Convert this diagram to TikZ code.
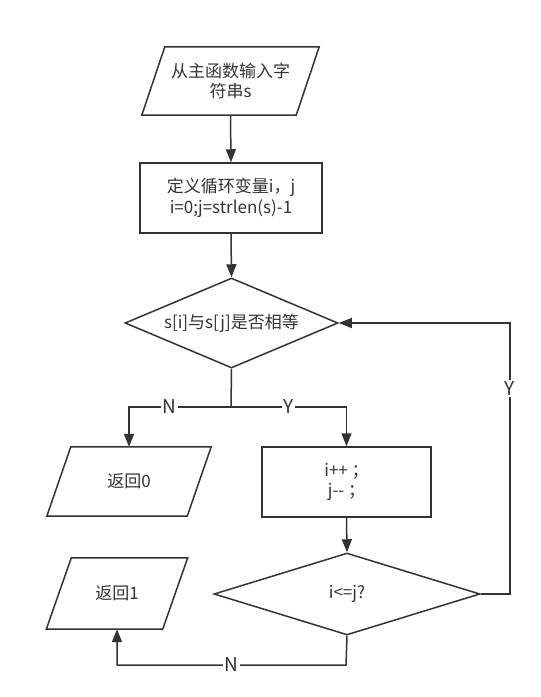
\documentclass[tikz,border=0pt]{standalone}
\usepackage{fontspec}
\setmainfont{Noto Sans CJK SC}
\usetikzlibrary{shapes.geometric,arrows.meta}
\definecolor{ink}{HTML}{333333}
\tikzset{
  every node/.style={text=ink,font=\fontsize{17}{20.5}\selectfont,align=center,inner sep=0pt},
  line/.style={draw=ink,line width=1.5pt},
  arr/.style={line,-{Triangle[length=13pt,width=10pt]}},
  box/.style={line,rectangle,minimum width=#1,minimum height=70pt},
  slot/.style={rectangle,minimum width=#1,minimum height=69pt},
  dia/.style={line,diamond},
  lab/.style={fill=white,inner sep=1.5pt,font=\fontsize{19}{20}\selectfont}
}
\begin{document}
\begin{tikzpicture}[x=1pt,y=-1pt]
\useasboundingbox (0,0) rectangle (541,697);
% nodes
\node[slot=154pt,minimum height=68pt] (in) at (230.5,81) {从主函数输入字\\符串s};
\draw[line] ([xshift=11.5pt]in.north west) -- ([xshift=11.5pt]in.north east)
  -- ([xshift=-11.5pt]in.south east) -- ([xshift=-11.5pt]in.south west) -- cycle;
\node[box=182pt] (init) at (231,198) {定义循环变量i，j\\i=0;j=strlen(s)-1};
\node[dia,shape aspect=2.37,minimum width=213pt,minimum height=90pt] (cmp) at (231.5,323) {s[i]与s[j]是否相等};
\node[slot=140pt] (r0) at (129,481.5) {返回0};
\draw[line] ([xshift=12pt]r0.north west) -- ([xshift=12pt]r0.north east)
  -- ([xshift=-12pt]r0.south east) -- ([xshift=-12pt]r0.south west) -- cycle;
\node[box=169pt] (inc) at (346.5,482) {i++ ；\\j-{}- ；};
\node[dia,shape aspect=3.2,minimum width=266pt,minimum height=82pt] (le) at (347,594) {i<=j?};
\node[slot=116pt,minimum height=71pt] (r1) at (117,593.5) {返回1};
\draw[line] ([xshift=12.5pt]r1.north west) -- ([xshift=12.5pt]r1.north east)
  -- ([xshift=-12.5pt]r1.south east) -- ([xshift=-12.5pt]r1.south west) -- cycle;
% coordinates
\coordinate (split) at (231,407);
\coordinate (loopb) at (510,594);
\coordinate (loopt) at (510,323);
\coordinate (nb) at (346,665);
% connectors
\draw[arr] (in.south) -- (init.north);
\draw[arr] (init.south) -- (cmp.north);
\draw[line] (cmp.south) -- (split);
\draw[arr] (split) -| node[lab,pos=0.3] {N} (r0.north);
\draw[arr] (split) -| node[lab,pos=0.25] {Y} (inc.north);
\draw[arr] (inc.south) -- (le.north);
\draw[arr] (le.east) -- (loopb) -- node[lab,pos=0.76] {Y} (loopt) -- (cmp.east);
\draw[arr] (le.south) -- (nb) -| node[lab,pos=0.25] {N} (r1.south);
\end{tikzpicture}
\end{document}
